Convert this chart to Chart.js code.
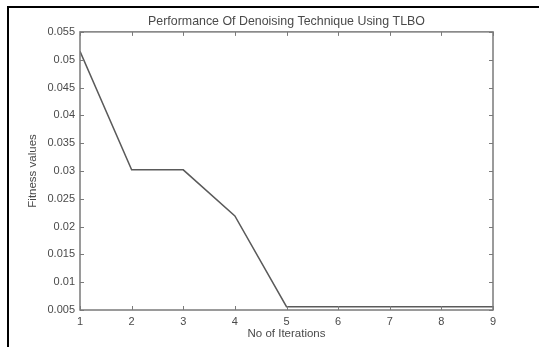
<!DOCTYPE html>
<html>
<head>
<meta charset="utf-8">
<title>Performance Of Denoising Technique Using TLBO</title>
<script src="https://cdn.jsdelivr.net/npm/chart.js@4.4.0/dist/chart.umd.min.js"></script>
<style>
  html, body { margin: 0; padding: 0; background: #fff; }
  #wrap { position: relative; width: 539px; height: 347px; }
  #frame { position: absolute; left: 7px; top: 6px; right: 0; bottom: 0;
           border-top: 2px solid #000; border-left: 2px solid #000; pointer-events: none; }
  canvas { position: absolute; left: 0; top: 0; }
</style>
</head>
<body>
<div id="wrap">
  <canvas id="chart" width="539" height="347"></canvas>
  <div id="frame"></div>
</div>
<script>
const iterations = [1, 2, 3, 4, 5, 6, 7, 8, 9];
const fitness = [0.0515, 0.0302, 0.0302, 0.0219, 0.0056, 0.0056, 0.0056, 0.0056, 0.0056];
const yTicks = [0.005, 0.01, 0.015, 0.02, 0.025, 0.03, 0.035, 0.04, 0.045, 0.05, 0.055];

const axisColor = "#7a7a7a";
const textColor = "#4a4a4a";
const fontFamily = "'Liberation Sans', Arial, sans-serif";

// box round the plot area with short ticks pointing inwards on all four sides
const boxPlugin = {
  id: "box",
  afterDatasetsDraw(chart) {
    const { ctx, chartArea: a, scales } = chart;
    ctx.save();
    ctx.strokeStyle = axisColor;
    ctx.lineWidth = 1.5;
    ctx.strokeRect(a.left, a.top, a.right - a.left, a.bottom - a.top);
    ctx.lineWidth = 1;
    ctx.beginPath();
    iterations.forEach(v => {
      const x = Math.round(scales.x.getPixelForValue(v)) + 0.5;
      ctx.moveTo(x, a.bottom); ctx.lineTo(x, a.bottom - 4);
      ctx.moveTo(x, a.top); ctx.lineTo(x, a.top + 4);
    });
    yTicks.forEach(v => {
      const y = Math.round(scales.y.getPixelForValue(v)) + 0.5;
      ctx.moveTo(a.left, y); ctx.lineTo(a.left + 4, y);
      ctx.moveTo(a.right, y); ctx.lineTo(a.right - 4, y);
    });
    ctx.stroke();
    ctx.restore();
  }
};

new Chart(document.getElementById("chart").getContext("2d"), {
  type: "line",
  data: {
    datasets: [{
      label: "Fitness",
      data: iterations.map((it, i) => ({ x: it, y: fitness[i] })),
      borderColor: "#5a5a5a",
      borderWidth: 1.5,
      pointRadius: 0,
      tension: 0,
      fill: false
    }]
  },
  options: {
    responsive: false,
    animation: false,
    layout: { padding: { left: 18, right: 46, top: 0, bottom: 4 } },
    plugins: {
      legend: { display: false },
      tooltip: { enabled: false },
      title: {
        display: true,
        fullSize: false,
        text: "Performance Of Denoising Technique Using TLBO",
        color: textColor,
        font: { family: fontFamily, size: 12.4, weight: "normal" },
        padding: { top: 14, bottom: 3 }
      }
    },
    scales: {
      x: {
        type: "linear",
        min: 1, max: 9,
        grid: { display: false, drawTicks: false, tickLength: 0 },
        border: { display: false },
        ticks: {
          stepSize: 1,
          color: textColor,
          padding: 5,
          font: { family: fontFamily, size: 11 },
          maxRotation: 0
        },
        title: {
          display: true,
          text: "No of Iterations",
          color: textColor,
          font: { family: fontFamily, size: 11.5 },
          padding: { top: 0, bottom: 2 }
        },
        afterFit(scale) { scale.height = 33; }
      },
      y: {
        min: 0.005, max: 0.055,
        grid: { display: false, drawTicks: false, tickLength: 0 },
        border: { display: false },
        afterBuildTicks(scale) { scale.ticks = yTicks.map(v => ({ value: v })); },
        ticks: {
          color: textColor,
          padding: 5,
          font: { family: fontFamily, size: 11 },
          callback: v => String(Number(v.toFixed(3)))
        },
        title: {
          display: true,
          text: "Fitness values",
          color: textColor,
          font: { family: fontFamily, size: 11.5 },
          padding: { top: 7.5, bottom: 0 }
        },
        afterFit(scale) { scale.width = 62; }
      }
    }
  },
  plugins: [boxPlugin]
});
</script>
</body>
</html>
